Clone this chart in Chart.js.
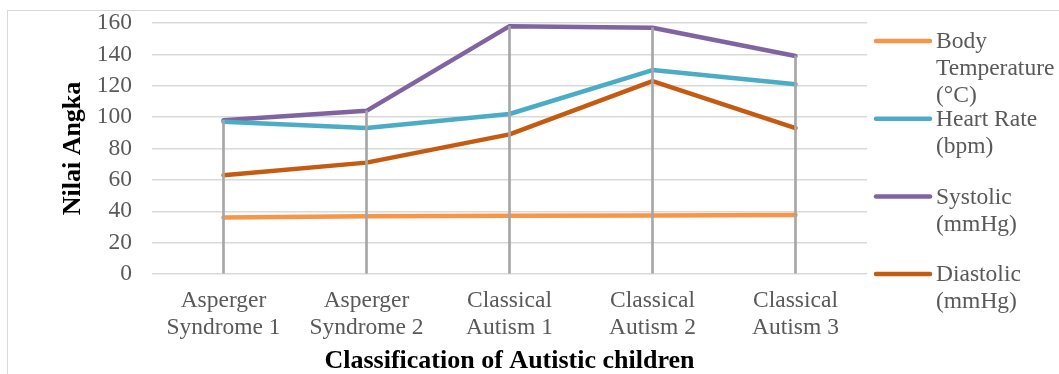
<!DOCTYPE html>
<html><head><meta charset="utf-8">
<script src="https://cdn.jsdelivr.net/npm/chart.js@4/dist/chart.umd.min.js"></script>
<style>
html,body{margin:0;padding:0;background:#fff;overflow:hidden;}
#frame{position:absolute;left:7px;top:10px;width:1100px;height:400px;border:1px solid #d9d9d9;box-sizing:border-box;}
#c{position:absolute;left:0;top:0;}
</style></head>
<body>
<div id="frame"></div>
<canvas id="c" width="1059" height="374"></canvas>
<script>
// ---- data ----
const categories = [['Asperger','Syndrome 1'],['Asperger','Syndrome 2'],['Classical','Autism 1'],['Classical','Autism 2'],['Classical','Autism 3']];
const bodyTemperature = [36, 36.8, 37.2, 37.3, 37.6];
const heartRate = [97, 93, 102, 130, 121];
const systolic = [98, 104, 158, 157, 139];
const diastolic = [63, 71, 89, 123, 93];
const seriesNames = ['Body Temperature (°C)', 'Heart Rate (bpm)', 'Systolic (mmHg)', 'Diastolic (mmHg)'];
const seriesColors = ['#F79646', '#4BACC6', '#8064A2', '#C55A11'];
const yMin = 0, yMax = 160, yStep = 20;
const xTitle = 'Classification of Autistic children';
const yTitle = 'Nilai Angka';

const allSeries = [bodyTemperature, heartRate, systolic, diastolic];
const dropLines = categories.map((_, i) => [0, Math.max(...allSeries.map(s => s[i]))]);

const FONT = '"Liberation Serif", "Times New Roman", serif';

const sideLegend = {
  id: 'sideLegend',
  afterDraw(chart) {
    const ctx = chart.ctx;
    const area = chart.chartArea;
    ctx.save();
    ctx.font = '23.5px ' + FONT;
    ctx.textBaseline = 'middle';
    const x0 = area.right + 9;
    let idx = 0;
    chart.data.datasets.forEach(ds => {
      if (ds.type === 'bar') return;
      const y = area.top + 18 + idx * 77.7;
      ctx.strokeStyle = ds.borderColor;
      ctx.lineWidth = 4.5;
      ctx.lineCap = 'round';
      ctx.beginPath(); ctx.moveTo(x0, y); ctx.lineTo(x0 + 54, y); ctx.stroke();
      const words = ds.label.split(' ');
      const lines = [];
      let cur = '';
      words.forEach(w => {
        const t = cur ? cur + ' ' + w : w;
        if (ctx.measureText(t).width > 122 && cur) { lines.push(cur); cur = w; } else cur = t;
      });
      if (cur) lines.push(cur);
      ctx.fillStyle = '#595959';
      lines.forEach((l, k) => ctx.fillText(l, x0 + 60, y + 1 + k * 27));
      idx++;
    });
    ctx.restore();
  }
};

const lineDatasets = allSeries.map((s, i) => ({
  type: 'line',
  label: seriesNames[i],
  data: s,
  borderColor: seriesColors[i],
  backgroundColor: seriesColors[i],
  borderWidth: 4.5,
  borderCapStyle: 'round',
  borderJoinStyle: 'round',
  pointRadius: 0,
  tension: 0,
  order: 2
}));

new Chart(document.getElementById('c'), {
  type: 'line',
  data: {
    labels: categories,
    datasets: [
      ...lineDatasets,
      { type: 'bar', label: 'drop', data: dropLines, backgroundColor: '#A6A6A6', barThickness: 2, order: 1 }
    ]
  },
  options: {
    responsive: false,
    animation: false,
    devicePixelRatio: 1,
    layout: { padding: { left: 0, right: 192, top: 23, bottom: 0 } },
    plugins: { legend: { display: false }, tooltip: { enabled: false } },
    scales: {
      x: {
        offset: true,
        grid: { display: false, drawTicks: false },
        border: { display: false },
        ticks: { color: '#595959', font: { family: FONT, size: 23.5, lineHeight: 1.12 }, padding: 14, maxRotation: 0, autoSkip: false },
        title: { display: true, text: xTitle, color: '#000', font: { family: FONT, size: 26, weight: 'bold', lineHeight: 1 }, padding: { top: 0, bottom: 0 } },
        afterFit(scale) { scale.height = 100; scale.paddingLeft = 0; scale.paddingRight = 0; }
      },
      y: {
        min: yMin, max: yMax,
        grid: { color: '#D9D9D9', lineWidth: 1.5, drawTicks: false },
        border: { display: false },
        ticks: { stepSize: yStep, autoSkip: false, color: '#595959', font: { family: FONT, size: 23.5 }, padding: 20 },
        title: { display: true, text: yTitle, color: '#000', font: { family: FONT, size: 26, weight: 'bold', lineHeight: 1 }, padding: { top: 60, bottom: 0 } },
        afterFit(scale) { scale.width = 152; scale.paddingTop = 0; scale.paddingBottom = 0; }
      }
    }
  },
  plugins: [sideLegend]
});
</script>
</body></html>
